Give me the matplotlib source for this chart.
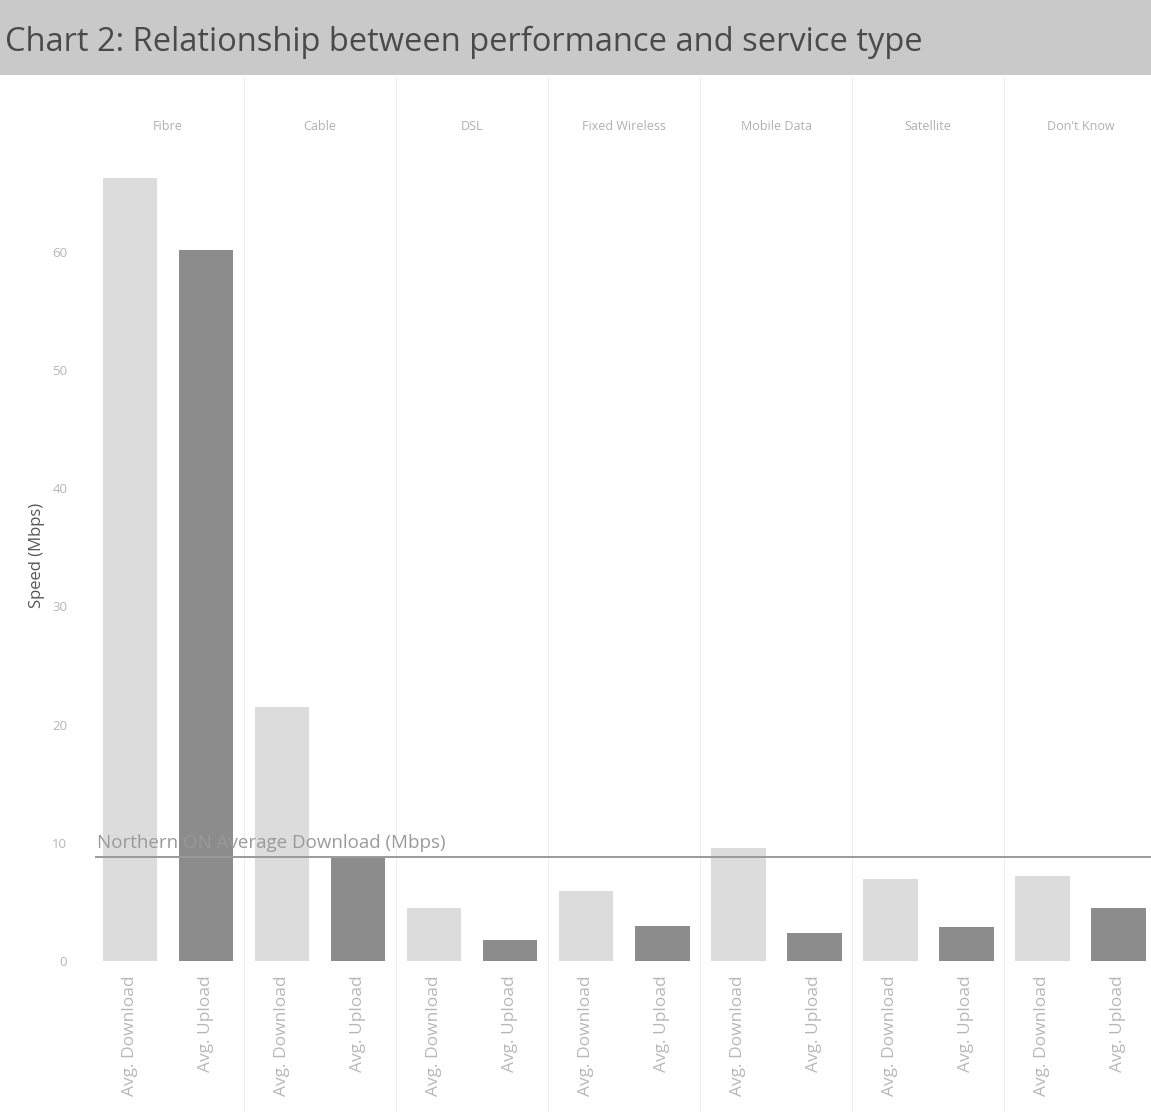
import matplotlib
matplotlib.use("Agg")
import matplotlib.pyplot as plt
from matplotlib.patches import Rectangle

plt.rcParams['font.family'] = ['Open Sans', 'DejaVu Sans']

service_types = ["Fibre", "Cable", "DSL", "Fixed Wireless", "Mobile Data", "Satellite", "Don't Know"]
measures = ["Avg. Download", "Avg. Upload"]
avg_download = [66.2, 21.5, 4.5, 5.9, 9.6, 6.9, 7.2]
avg_upload = [60.1, 8.7, 1.8, 3.0, 2.4, 2.9, 4.5]
northern_on_avg = 8.8
y_ticks = [0, 10, 20, 30, 40, 50, 60]

dl_color = "#dcdcdc"
ul_color = "#8c8c8c"

fig = plt.figure(figsize=(11.51, 11.12), dpi=100)

# title band across the top
fig.patches.append(Rectangle((0, 0.9326), 1, 0.0674, transform=fig.transFigure,
                             facecolor="#c9c9c9", edgecolor="none", zorder=0))
fig.text(0.004, 0.962, "Chart 2: Relationship between performance and service type",
         fontsize=23.5, color="#4a4a4a", va="center", ha="left")

ax = fig.add_axes([95 / 1151, 151 / 1112, 1056 / 1151, 811 / 1112])

xs, heights, colors, labels = [], [], [], []
for i in range(len(service_types)):
    for j, vals in enumerate([avg_download, avg_upload]):
        xs.append(2 * i + j)
        heights.append(vals[i])
        colors.append([dl_color, ul_color][j])
        labels.append(measures[j])

ax.bar(xs, heights, width=0.72, color=colors, zorder=2)

ax.set_xlim(-0.46, 13.43)
ax.set_ylim(0, 68.6)
ax.set_yticks(y_ticks)
ax.set_yticklabels([str(t) for t in y_ticks], fontsize=9.5, color="#b5b5b5")
ax.set_xticks(xs)
ax.set_xticklabels(labels, rotation=90, fontsize=12.5, color="#b8b8b8", va="top")
ax.tick_params(length=0, pad=10)
ax.tick_params(axis="y", pad=20)
for s in ax.spines.values():
    s.set_visible(False)
ax.set_ylabel("Speed (Mbps)", fontsize=12, color="#555555", labelpad=4)
ax.yaxis.set_label_coords(-0.047, 0.5)

# pane dividers and column headers
for k in range(1, len(service_types)):
    ax.axvline(2 * k - 0.5, ymin=-0.19, ymax=1.09, color="#efefef", lw=0.8,
               clip_on=False, zorder=1)
for i, name in enumerate(service_types):
    ax.text(2 * i + 0.5, 1.029, name, transform=ax.get_xaxis_transform(),
            ha="center", va="center", fontsize=9, color="#b0b0b0")

# reference line
ax.axhline(northern_on_avg, color="#9a9a9a", lw=1.4, zorder=3)
ax.text(-0.43, northern_on_avg + 0.45, "Northern ON Average Download (Mbps)",
        fontsize=13.5, color="#9a9a9a", ha="left", va="bottom", zorder=4)

fig.savefig("out.png", dpi=100, facecolor="white")
